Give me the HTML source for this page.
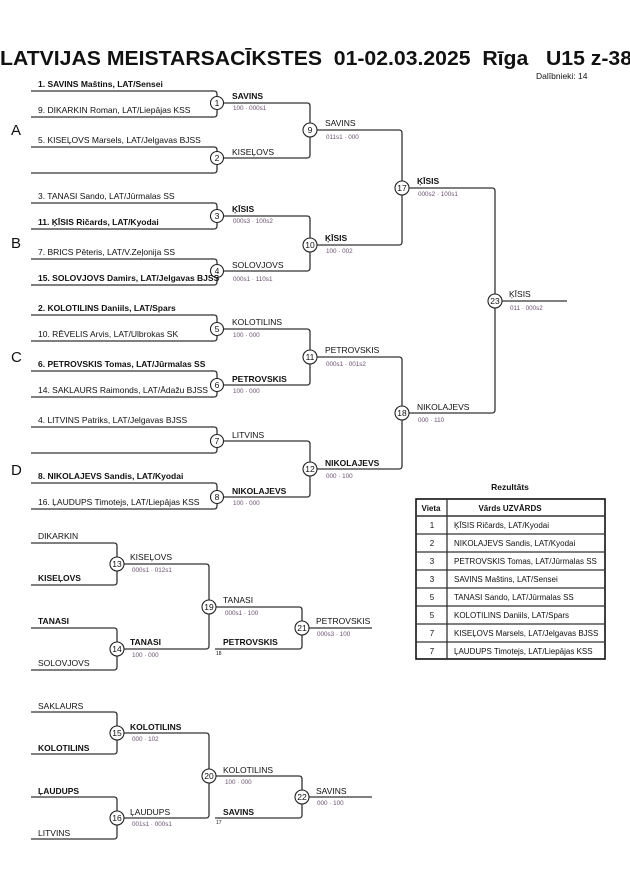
<!DOCTYPE html>
<html><head><meta charset="utf-8"><style>
html,body{margin:0;padding:0;background:#fff;width:630px;height:891px;overflow:hidden}
svg{display:block}
text{font-family:"Liberation Sans",sans-serif;fill:#111}
.n{font-size:8.5px}
.b{font-weight:bold}
.s{font-size:6.3px;fill:#6a5070}
.c{font-size:8.5px;text-anchor:middle}
.L{font-size:15px}
.t{white-space:pre}
path,line{fill:none;stroke:#333;stroke-width:1.3}
circle{fill:#fff;stroke:#222;stroke-width:1.1}
</style></head><body>
<svg width="630" height="891" viewBox="0 0 630 891">
<text x="0" y="65" class="b t" font-size="20" xml:space="preserve" textLength="632" lengthAdjust="spacingAndGlyphs">LATVIJAS MEISTARSACĪKSTES  01-02.03.2025  Rīga   U15 z-38</text>
<text x="536" y="79" font-size="8.5">Dalībnieki: 14</text>

<path d="M31 91H214Q217 91 217 94V114Q217 117 214 117H31"/>
<path d="M31 147H214Q217 147 217 150V170Q217 173 214 173H31"/>
<path d="M31 203H214Q217 203 217 206V226Q217 229 214 229H31"/>
<path d="M31 259H214Q217 259 217 262V282Q217 285 214 285H31"/>
<path d="M31 315H214Q217 315 217 318V338Q217 341 214 341H31"/>
<path d="M31 371H214Q217 371 217 374V394Q217 397 214 397H31"/>
<path d="M31 427H214Q217 427 217 430V450Q217 453 214 453H31"/>
<path d="M31 483H214Q217 483 217 486V506Q217 509 214 509H31"/>
<path d="M217 103H307Q310 103 310 106V155Q310 158 307 158H217"/>
<path d="M217 216H307Q310 216 310 219V268Q310 271 307 271H217"/>
<path d="M217 329H307Q310 329 310 332V382Q310 385 307 385H217"/>
<path d="M217 441H307Q310 441 310 444V494Q310 497 307 497H217"/>
<path d="M310 130H399Q402 130 402 133V242Q402 245 399 245H310"/>
<path d="M310 357H399Q402 357 402 360V466Q402 469 399 469H310"/>
<path d="M402 188H492Q495 188 495 191V410Q495 413 492 413H402"/>
<line x1="495" y1="301" x2="567" y2="301" style="stroke-width:1.6;stroke:#555"/>

<path d="M31 543H114Q117 543 117 546V582Q117 585 114 585H31"/>
<path d="M31 628H114Q117 628 117 631V667Q117 670 114 670H31"/>
<path d="M117 564H206Q209 564 209 567V646Q209 649 206 649H117"/>
<path d="M209 607H299Q302 607 302 610V646Q302 649 299 649H215"/>
<line x1="302" y1="628" x2="372" y2="628"/>
<path d="M31 712H114Q117 712 117 715V751Q117 754 114 754H31"/>
<path d="M31 797H114Q117 797 117 800V836Q117 839 114 839H31"/>
<path d="M117 733H206Q209 733 209 736V815Q209 818 206 818H117"/>
<path d="M209 776H299Q302 776 302 779V815Q302 818 299 818H215"/>
<line x1="302" y1="797" x2="372" y2="797"/>

<g>
<circle cx="217" cy="103" r="6.5"/><text x="217" y="106" class="c">1</text>
<circle cx="217" cy="158" r="6.5"/><text x="217" y="161" class="c">2</text>
<circle cx="217" cy="216" r="6.5"/><text x="217" y="219" class="c">3</text>
<circle cx="217" cy="271" r="6.5"/><text x="217" y="274" class="c">4</text>
<circle cx="217" cy="329" r="6.5"/><text x="217" y="332" class="c">5</text>
<circle cx="217" cy="385" r="6.5"/><text x="217" y="388" class="c">6</text>
<circle cx="217" cy="441" r="6.5"/><text x="217" y="444" class="c">7</text>
<circle cx="217" cy="497" r="6.5"/><text x="217" y="500" class="c">8</text>
<circle cx="310" cy="130" r="7"/><text x="310" y="133" class="c">9</text>
<circle cx="310" cy="245" r="7"/><text x="310" y="248" class="c">10</text>
<circle cx="310" cy="357" r="7"/><text x="310" y="360" class="c">11</text>
<circle cx="310" cy="469" r="7"/><text x="310" y="472" class="c">12</text>
<circle cx="402" cy="188" r="7"/><text x="402" y="191" class="c">17</text>
<circle cx="402" cy="413" r="7"/><text x="402" y="416" class="c">18</text>
<circle cx="495" cy="301" r="7"/><text x="495" y="304" class="c">23</text>
<circle cx="117" cy="564" r="7"/><text x="117" y="567" class="c">13</text>
<circle cx="117" cy="649" r="7"/><text x="117" y="652" class="c">14</text>
<circle cx="209" cy="607" r="7"/><text x="209" y="610" class="c">19</text>
<circle cx="302" cy="628" r="7"/><text x="302" y="631" class="c">21</text>
<circle cx="117" cy="733" r="7"/><text x="117" y="736" class="c">15</text>
<circle cx="117" cy="818" r="7"/><text x="117" y="821" class="c">16</text>
<circle cx="209" cy="776" r="7"/><text x="209" y="779" class="c">20</text>
<circle cx="302" cy="797" r="7"/><text x="302" y="800" class="c">22</text>
</g>

<text x="11" y="135" class="L">A</text>
<text x="11" y="248" class="L">B</text>
<text x="11" y="362" class="L">C</text>
<text x="11" y="475" class="L">D</text>

<text x="38" y="87" class="n b">1. SAVINS Maštins, LAT/Sensei</text>
<text x="38" y="113" class="n">9. DIKARKIN Roman, LAT/Liepājas KSS</text>
<text x="38" y="143" class="n">5. KISEĻOVS Marsels, LAT/Jelgavas BJSS</text>
<text x="38" y="199" class="n">3. TANASI Sando, LAT/Jūrmalas SS</text>
<text x="38" y="225" class="n b">11. ĶĪSIS Ričards, LAT/Kyodai</text>
<text x="38" y="255" class="n">7. BRICS Pēteris, LAT/V.Zeļonija SS</text>
<text x="38" y="281" class="n b">15. SOLOVJOVS Damirs, LAT/Jelgavas BJSS</text>
<text x="38" y="311" class="n b">2. KOLOTILINS Daniils, LAT/Spars</text>
<text x="38" y="337" class="n">10. RĒVELIS Arvis, LAT/Ulbrokas SK</text>
<text x="38" y="367" class="n b">6. PETROVSKIS Tomas, LAT/Jūrmalas SS</text>
<text x="38" y="393" class="n">14. SAKLAURS Raimonds, LAT/Ādažu BJSS</text>
<text x="38" y="423" class="n">4. LITVINS Patriks, LAT/Jelgavas BJSS</text>
<text x="38" y="479" class="n b">8. NIKOLAJEVS Sandis, LAT/Kyodai</text>
<text x="38" y="505" class="n">16. ĻAUDUPS Timotejs, LAT/Liepājas KSS</text>

<text x="232" y="99" class="n b">SAVINS</text><text x="233" y="110" class="s">100 · 000s1</text>
<text x="232" y="155" class="n">KISEĻOVS</text>
<text x="232" y="212" class="n b">ĶĪSIS</text><text x="233" y="223" class="s">000s3 · 100s2</text>
<text x="232" y="268" class="n">SOLOVJOVS</text><text x="233" y="281" class="s">000s1 · 110s1</text>
<text x="232" y="325" class="n">KOLOTILINS</text><text x="233" y="337" class="s">100 · 000</text>
<text x="232" y="382" class="n b">PETROVSKIS</text><text x="233" y="393" class="s">100 · 000</text>
<text x="232" y="438" class="n">LITVINS</text>
<text x="232" y="494" class="n b">NIKOLAJEVS</text><text x="233" y="505" class="s">100 · 000</text>
<text x="325" y="126" class="n">SAVINS</text><text x="326" y="139" class="s">011s1 · 000</text>
<text x="325" y="241" class="n b">ĶĪSIS</text><text x="326" y="253" class="s">100 · 002</text>
<text x="325" y="353" class="n">PETROVSKIS</text><text x="326" y="366" class="s">000s1 · 001s2</text>
<text x="325" y="466" class="n b">NIKOLAJEVS</text><text x="326" y="478" class="s">000 · 100</text>
<text x="417" y="184" class="n b">ĶĪSIS</text><text x="418" y="196" class="s">000s2 · 100s1</text>
<text x="417" y="410" class="n">NIKOLAJEVS</text><text x="418" y="422" class="s">000 · 110</text>
<text x="509" y="297" class="n">ĶĪSIS</text><text x="510" y="310" class="s">011 · 000s2</text>

<text x="38" y="539" class="n">DIKARKIN</text>
<text x="38" y="581" class="n b">KISEĻOVS</text>
<text x="38" y="624" class="n b">TANASI</text>
<text x="38" y="666" class="n">SOLOVJOVS</text>
<text x="130" y="560" class="n">KISEĻOVS</text><text x="132" y="572" class="s">000s1 · 012s1</text>
<text x="130" y="645" class="n b">TANASI</text><text x="132" y="657" class="s">100 · 000</text>
<text x="223" y="603" class="n">TANASI</text><text x="225" y="615" class="s">000s1 · 100</text>
<text x="223" y="645" class="n b">PETROVSKIS</text><text x="216" y="655" font-size="5" fill="#777">18</text>
<text x="316" y="624" class="n">PETROVSKIS</text><text x="317" y="636" class="s">000s3 · 100</text>

<text x="38" y="709" class="n">SAKLAURS</text>
<text x="38" y="751" class="n b">KOLOTILINS</text>
<text x="38" y="794" class="n b">ĻAUDUPS</text>
<text x="38" y="836" class="n">LITVINS</text>
<text x="130" y="730" class="n b">KOLOTILINS</text><text x="132" y="741" class="s">000 · 102</text>
<text x="130" y="815" class="n">ĻAUDUPS</text><text x="132" y="826" class="s">001s1 · 000s1</text>
<text x="223" y="773" class="n">KOLOTILINS</text><text x="225" y="784" class="s">100 · 000</text>
<text x="223" y="815" class="n b">SAVINS</text><text x="216" y="824" font-size="5" fill="#777">17</text>
<text x="316" y="794" class="n">SAVINS</text><text x="317" y="805" class="s">000 · 100</text>

<text x="510" y="490" class="n b" text-anchor="middle">Rezultāts</text>
<rect x="416" y="499" width="189" height="160" fill="none" stroke="#111" stroke-width="1.6"/>
<g style="stroke:#333;stroke-width:1">
<line x1="416" y1="516" x2="605" y2="516" style="stroke-width:1.5"/>
<line x1="416" y1="534" x2="605" y2="534"/>
<line x1="416" y1="552" x2="605" y2="552"/>
<line x1="416" y1="570" x2="605" y2="570"/>
<line x1="416" y1="588" x2="605" y2="588"/>
<line x1="416" y1="606" x2="605" y2="606"/>
<line x1="416" y1="624" x2="605" y2="624"/>
<line x1="416" y1="642" x2="605" y2="642"/>
<line x1="447" y1="499" x2="447" y2="659"/>
</g>
<g font-size="8">
<text x="431" y="511" class="b" text-anchor="middle">Vieta</text>
<text x="510" y="511" class="b" text-anchor="middle">Vārds UZVĀRDS</text>
<text x="432" y="528" text-anchor="middle">1</text><text x="454" y="528">ĶĪSIS Ričards, LAT/Kyodai</text>
<text x="432" y="546" text-anchor="middle">2</text><text x="454" y="546">NIKOLAJEVS Sandis, LAT/Kyodai</text>
<text x="432" y="564" text-anchor="middle">3</text><text x="454" y="564">PETROVSKIS Tomas, LAT/Jūrmalas SS</text>
<text x="432" y="582" text-anchor="middle">3</text><text x="454" y="582">SAVINS Maštins, LAT/Sensei</text>
<text x="432" y="600" text-anchor="middle">5</text><text x="454" y="600">TANASI Sando, LAT/Jūrmalas SS</text>
<text x="432" y="618" text-anchor="middle">5</text><text x="454" y="618">KOLOTILINS Daniils, LAT/Spars</text>
<text x="432" y="636" text-anchor="middle">7</text><text x="454" y="636">KISEĻOVS Marsels, LAT/Jelgavas BJSS</text>
<text x="432" y="654" text-anchor="middle">7</text><text x="454" y="654">ĻAUDUPS Timotejs, LAT/Liepājas KSS</text>
</g>
</svg>
</body></html>
